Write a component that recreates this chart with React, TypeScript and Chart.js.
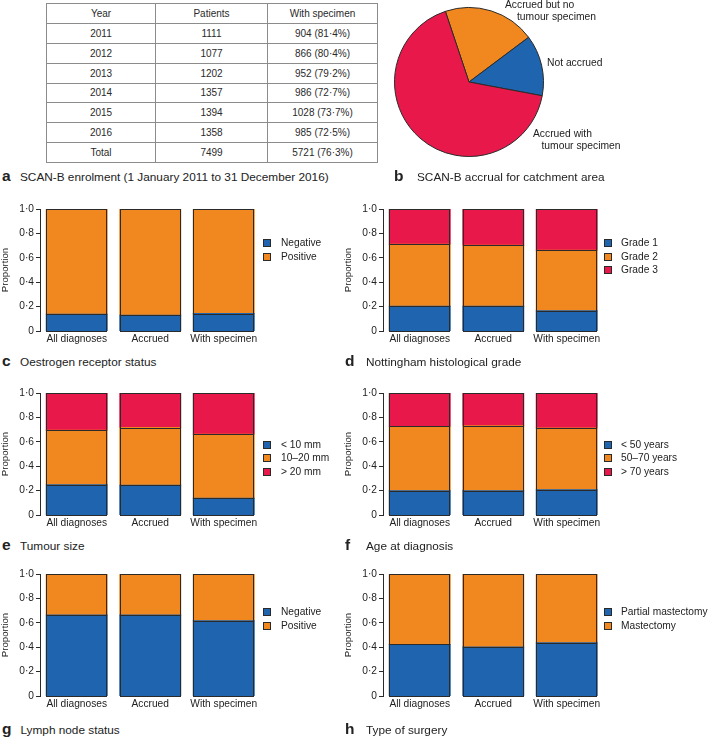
import React, { useEffect, useRef } from 'react';
import { Chart, registerables } from 'chart.js';

Chart.register(...registerables);

const FONT = "'Liberation Sans', Arial, Helvetica, sans-serif";
const BLUE = '#1e64ae';
const ORANGE = '#f0871f';
const RED = '#e8194a';
const EDGE = '#2a2a2a';
const TEXT = '#222222';

// ---- a: enrolment table ----
const tableHeaders = ['Year', 'Patients', 'With specimen'];
const years = ['2011', '2012', '2013', '2014', '2015', '2016', 'Total'];
const patients = [1111, 1077, 1202, 1357, 1394, 1358, 7499];
const withSpecimen = [904, 866, 952, 986, 1028, 985, 5721];
const withSpecimenPct = ['81·4', '80·4', '79·2', '72·7', '73·7', '72·5', '76·3'];

// ---- b: accrual pie ----
const accrualLabels = ['Accrued but no tumour specimen', 'Not accrued', 'Accrued with tumour specimen'];
const accrualValues = [19.9, 13.2, 66.9];

// ---- bar panels ----
const groups = ['All diagnoses', 'Accrued', 'With specimen'];
const yTickLabels = ['0', '0·2', '0·4', '0·6', '0·8', '1·0'];

const erLabels = ['Negative', 'Positive'];
const erNegative = [0.137, 0.13, 0.143];
const erPositive = [0.863, 0.87, 0.857];

const gradeLabels = ['Grade 1', 'Grade 2', 'Grade 3'];
const grade1 = [0.203, 0.203, 0.165];
const grade2 = [0.509, 0.5, 0.497];
const grade3 = [0.288, 0.297, 0.338];

const sizeLabels = ['< 10 mm', '10–20 mm', '> 20 mm'];
const sizeUnder10 = [0.248, 0.243, 0.138];
const size10to20 = [0.447, 0.474, 0.524];
const sizeOver20 = [0.305, 0.283, 0.338];

const ageLabels = ['< 50 years', '50–70 years', '> 70 years'];
const ageUnder50 = [0.199, 0.199, 0.207];
const age50to70 = [0.527, 0.532, 0.507];
const ageOver70 = [0.274, 0.269, 0.286];

const nodeLabels = ['Negative', 'Positive'];
const nodeNegative = [0.664, 0.664, 0.617];
const nodePositive = [0.336, 0.336, 0.383];

const surgeryLabels = ['Partial mastectomy', 'Mastectomy'];
const surgeryPartial = [0.423, 0.402, 0.437];
const surgeryMastectomy = [0.577, 0.598, 0.563];

const Y_W = 40;
const PAD_TOP = 10;
const PLOT_H = 122;
const X_H = 20;
const TICK_SIZE = 10.2;

// Crisp outline of every bar segment, taken from the bar elements' own geometry
const outlinePlugin = {
  id: 'segmentOutline',
  afterDatasetsDraw(chart: any) {
    const ctx = chart.ctx;
    ctx.save();
    ctx.strokeStyle = EDGE;
    ctx.lineWidth = 1;
    chart.data.datasets.forEach((_d: any, di: number) => {
      const meta = chart.getDatasetMeta(di);
      meta.data.forEach((el: any) => {
        const p = el.getProps(['x', 'y', 'base', 'width'], true);
        const l = Math.round(p.x - p.width / 2) + 0.5;
        const r = Math.round(p.x + p.width / 2) - 0.5;
        const t = Math.round(Math.min(p.y, p.base)) + 0.5;
        const b = Math.round(Math.max(p.y, p.base)) + 0.5;
        ctx.strokeRect(l, t, r - l, b - t);
      });
    });
    ctx.restore();
  },
};

type Series = { label: string; data: number[]; color: string };

function BarPanel(props: {
  left: number;
  width: number;
  plotTop: number;
  series: Series[];
  legendY: number;
  legendSquareX: number;
  legendTextX: number;
}) {
  const ref = useRef<HTMLCanvasElement>(null);
  const { left, width, plotTop, series, legendY, legendSquareX, legendTextX } = props;
  const height = PAD_TOP + PLOT_H + X_H;
  const padRight = width - Y_W - 220.5;
  useEffect(() => {
    if (!ref.current) return;
    const chart = new Chart(ref.current, {
      type: 'bar',
      data: {
        labels: groups,
        datasets: series.map((s) => ({
          label: s.label,
          data: s.data,
          backgroundColor: s.color,
          borderWidth: 0,
          inflateAmount: 0.5,
          barPercentage: 0.83,
          categoryPercentage: 1,
        })),
      },
      plugins: [outlinePlugin],
      options: {
        responsive: false,
        animation: false,
        devicePixelRatio: 1,
        layout: { padding: { top: PAD_TOP, right: padRight, left: 0, bottom: 0 } },
        plugins: { legend: { display: false }, tooltip: { enabled: false } },
        scales: {
          x: {
            stacked: true,
            grid: { display: false, drawTicks: false },
            border: { display: false },
            ticks: {
              font: { family: FONT, size: TICK_SIZE },
              color: TEXT,
              padding: 2,
              maxRotation: 0,
              autoSkip: false,
            },
            afterFit: (s: any) => {
              s.height = X_H;
            },
          },
          y: {
            stacked: true,
            min: 0,
            max: 1,
            ticks: {
              stepSize: 0.2,
              callback: (_v: any, i: number) => yTickLabels[i],
              font: { family: FONT, size: TICK_SIZE },
              color: TEXT,
              padding: 2,
            },
            grid: {
              display: true,
              drawOnChartArea: false,
              drawTicks: true,
              tickLength: 4,
              color: EDGE,
              lineWidth: 1,
            },
            border: { display: true, color: EDGE, width: 1 },
            title: {
              display: true,
              text: 'Proportion',
              font: { family: FONT, size: 9.6 },
              color: TEXT,
              padding: 0,
            },
            afterFit: (s: any) => {
              s.width = Y_W;
            },
          },
        },
      } as any,
    });
    return () => chart.destroy();
  }, []);
  return (
    <>
      <canvas
        ref={ref}
        width={width}
        height={height}
        style={{ position: 'absolute', left, top: plotTop - PAD_TOP, width, height }}
      />
      {series.map((s, i) => (
        <React.Fragment key={s.label}>
          <div
            style={{
              position: 'absolute',
              left: legendSquareX,
              top: legendY + i * 13.4 - 4,
              width: 8,
              height: 8,
              boxSizing: 'border-box',
              background: s.color,
              border: `1px solid ${EDGE}`,
            }}
          />
          <div
            style={{
              position: 'absolute',
              left: legendTextX,
              top: legendY + i * 13.4 - 7,
              height: 14,
              lineHeight: '14px',
              fontFamily: FONT,
              fontSize: TICK_SIZE,
              color: TEXT,
              whiteSpace: 'nowrap',
            }}
          >
            {s.label}
          </div>
        </React.Fragment>
      ))}
    </>
  );
}

function AccrualPie() {
  const ref = useRef<HTMLCanvasElement>(null);
  useEffect(() => {
    if (!ref.current) return;
    const chart = new Chart(ref.current, {
      type: 'pie',
      data: {
        labels: accrualLabels,
        datasets: [
          {
            data: accrualValues,
            backgroundColor: [ORANGE, BLUE, RED],
            borderColor: EDGE,
            borderWidth: 1,
          },
        ],
      },
      options: {
        responsive: false,
        animation: false,
        devicePixelRatio: 1,
        rotation: -18.5,
        layout: { padding: { left: 4, top: 7, right: 165, bottom: 13 } },
        plugins: { legend: { display: false }, tooltip: { enabled: false } },
      } as any,
    });
    return () => chart.destroy();
  }, []);
  const lbl = (text: string, x: number, y: number) => (
    <div
      key={text + x + y}
      style={{
        position: 'absolute',
        left: x,
        top: y - 6,
        lineHeight: '12px',
        fontFamily: FONT,
        fontSize: 10.3,
        color: TEXT,
        whiteSpace: 'nowrap',
      }}
    >
      {text}
    </div>
  );
  return (
    <>
      <canvas
        ref={ref}
        width={319}
        height={170}
        style={{ position: 'absolute', left: 390, top: 0, width: 319, height: 170 }}
      />
      {lbl('Accrued but no', 505, 5)}
      {lbl('tumour specimen', 517, 16.7)}
      {lbl('Not accrued', 547, 63.3)}
      {lbl('Accrued with', 533, 134)}
      {lbl('tumour specimen', 541.5, 145.7)}
    </>
  );
}

function EnrolmentTable() {
  const rows: string[][] = [tableHeaders];
  years.forEach((y, i) => {
    rows.push([y, String(patients[i]), `${withSpecimen[i]} (${withSpecimenPct[i]}%)`]);
  });
  const cols = [109, 112, 110];
  return (
    <div
      style={{
        position: 'absolute',
        left: 46,
        top: 3,
        width: 332,
        height: 160,
        boxSizing: 'border-box',
        borderLeft: '1px solid #8c8c8c',
        borderTop: '1px solid #8c8c8c',
        display: 'grid',
        gridTemplateColumns: cols.map((c) => c + 'px').join(' '),
        gridTemplateRows: 'repeat(8, 1fr)',
        fontFamily: FONT,
        fontSize: 10,
        color: '#2a2a2a',
      }}
    >
      {rows.map((r, ri) =>
        r.map((c, ci) => (
          <div
            key={ri + '-' + ci}
            style={{
              boxSizing: 'border-box',
              borderRight: '1px solid #8c8c8c',
              borderBottom: '1px solid #8c8c8c',
              display: 'flex',
              alignItems: 'center',
              justifyContent: 'center',
            }}
          >
            {c}
          </div>
        ))
      )}
    </div>
  );
}

function Caption(props: { letter: string; text: string; lx: number; tx: number; y: number }) {
  const { letter, text, lx, tx, y } = props;
  return (
    <div
      style={{
        position: 'absolute',
        left: lx,
        top: y - 9,
        height: 18,
        lineHeight: '18px',
        whiteSpace: 'nowrap',
        color: TEXT,
        fontFamily: FONT,
      }}
    >
      <span style={{ display: 'inline-block', width: tx - lx, fontWeight: 'bold', fontSize: 15.5 }}>{letter}</span>
      <span style={{ fontSize: 11.8 }}>{text}</span>
    </div>
  );
}

export default function App() {
  const L = { left: 0, width: 354, legendSquareX: 263, legendTextX: 281 };
  const R = { left: 343, width: 366, legendSquareX: 604, legendTextX: 621 };
  return (
    <div
      style={{
        position: 'absolute',
        left: 0,
        top: 0,
        width: 709,
        height: 737,
        background: '#ffffff',
        overflow: 'hidden',
      }}
    >
      <EnrolmentTable />
      <Caption letter="a" text="SCAN-B enrolment (1 January 2011 to 31 December 2016)" lx={2} tx={20} y={176} />
      <AccrualPie />
      <Caption letter="b" text="SCAN-B accrual for catchment area" lx={394} tx={417} y={176} />

      <BarPanel
        {...L}
        plotTop={209}
        legendY={243.3}
        series={[
          { label: erLabels[0], data: erNegative, color: BLUE },
          { label: erLabels[1], data: erPositive, color: ORANGE },
        ]}
      />
      <Caption letter="c" text="Oestrogen receptor status" lx={2} tx={20} y={361} />

      <BarPanel
        {...R}
        plotTop={209}
        legendY={243.3}
        series={[
          { label: gradeLabels[0], data: grade1, color: BLUE },
          { label: gradeLabels[1], data: grade2, color: ORANGE },
          { label: gradeLabels[2], data: grade3, color: RED },
        ]}
      />
      <Caption letter="d" text="Nottingham histological grade" lx={345} tx={366} y={361} />

      <BarPanel
        {...L}
        plotTop={393}
        legendY={445}
        series={[
          { label: sizeLabels[0], data: sizeUnder10, color: BLUE },
          { label: sizeLabels[1], data: size10to20, color: ORANGE },
          { label: sizeLabels[2], data: sizeOver20, color: RED },
        ]}
      />
      <Caption letter="e" text="Tumour size" lx={2} tx={20} y={545} />

      <BarPanel
        {...R}
        plotTop={393}
        legendY={445}
        series={[
          { label: ageLabels[0], data: ageUnder50, color: BLUE },
          { label: ageLabels[1], data: age50to70, color: ORANGE },
          { label: ageLabels[2], data: ageOver70, color: RED },
        ]}
      />
      <Caption letter="f" text="Age at diagnosis" lx={345} tx={366} y={545} />

      <BarPanel
        {...L}
        plotTop={574}
        legendY={612.3}
        series={[
          { label: nodeLabels[0], data: nodeNegative, color: BLUE },
          { label: nodeLabels[1], data: nodePositive, color: ORANGE },
        ]}
      />
      <Caption letter="g" text="Lymph node status" lx={2} tx={20.5} y={729} />

      <BarPanel
        {...R}
        plotTop={574}
        legendY={612.3}
        series={[
          { label: surgeryLabels[0], data: surgeryPartial, color: BLUE },
          { label: surgeryLabels[1], data: surgeryMastectomy, color: ORANGE },
        ]}
      />
      <Caption letter="h" text="Type of surgery" lx={345} tx={366} y={729} />
    </div>
  );
}
